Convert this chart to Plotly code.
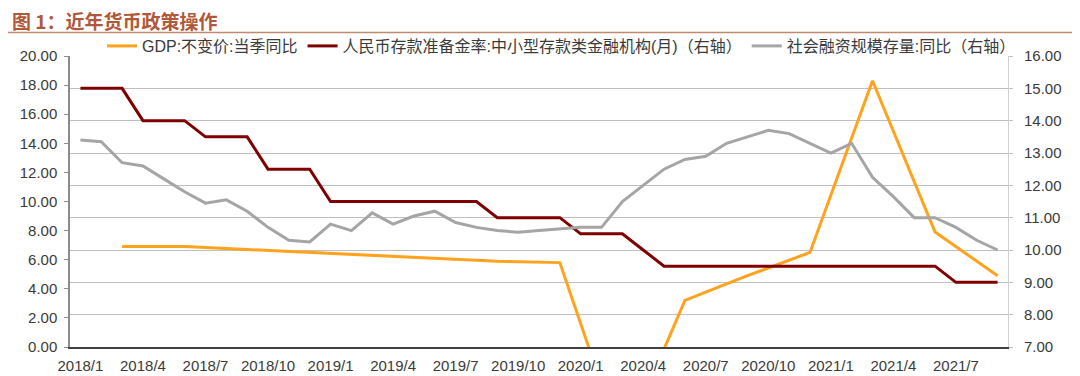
import plotly.graph_objects as go

months = [
    "2018/1", "2018/2", "2018/3", "2018/4", "2018/5", "2018/6", "2018/7", "2018/8", "2018/9",
    "2018/10", "2018/11", "2018/12",
    "2019/1", "2019/2", "2019/3", "2019/4", "2019/5", "2019/6", "2019/7", "2019/8", "2019/9",
    "2019/10", "2019/11", "2019/12",
    "2020/1", "2020/2", "2020/3", "2020/4", "2020/5", "2020/6", "2020/7", "2020/8", "2020/9",
    "2020/10", "2020/11", "2020/12",
    "2021/1", "2021/2", "2021/3", "2021/4", "2021/5", "2021/6", "2021/7", "2021/8", "2021/9",
]
tick_labels = ["2018/1", "2018/4", "2018/7", "2018/10", "2019/1", "2019/4", "2019/7", "2019/10",
               "2020/1", "2020/4", "2020/7", "2020/10", "2021/1", "2021/4", "2021/7"]

gdp_months = ["2018/3", "2018/6", "2018/9", "2018/12", "2019/3", "2019/6", "2019/9", "2019/12",
              "2020/3", "2020/6", "2020/9", "2020/12", "2021/3", "2021/6", "2021/9"]
gdp = [6.9, 6.9, 6.7, 6.5, 6.3, 6.1, 5.9, 5.8, -6.8, 3.2, 4.9, 6.5, 18.3, 7.9, 4.9]

rrr = [15.0, 15.0, 15.0, 14.0, 14.0, 14.0, 13.5, 13.5, 13.5, 12.5, 12.5, 12.5,
       11.5, 11.5, 11.5, 11.5, 11.5, 11.5, 11.5, 11.5, 11.0, 11.0, 11.0, 11.0,
       10.5, 10.5, 10.5, 10.0, 9.5, 9.5, 9.5, 9.5, 9.5, 9.5, 9.5, 9.5,
       9.5, 9.5, 9.5, 9.5, 9.5, 9.5, 9.0, 9.0, 9.0]

tsf = [13.4, 13.35, 12.7, 12.6, 12.2, 11.8, 11.45, 11.55, 11.2, 10.7, 10.3, 10.25,
       10.8, 10.6, 11.15, 10.8, 11.05, 11.2, 10.85, 10.7, 10.6, 10.55, 10.6, 10.65,
       10.7, 10.7, 11.5, 12.0, 12.5, 12.8, 12.9, 13.3, 13.5, 13.7, 13.6, 13.3,
       13.0, 13.3, 12.25, 11.65, 11.0, 11.0, 10.7, 10.3, 10.0]

names = ["GDP:不变价:当季同比",
         "人民币存款准备金率:中小型存款类金融机构(月)（右轴）",
         "社会融资规模存量:同比（右轴）"]
colors = ["#FFA21C", "#7F0000", "#A5A5A5"]

FONT = "Liberation Sans, Arial, Noto Sans CJK SC, sans-serif"

# The page body has an 8px margin, so the figure is 8px smaller than the window.
W, H = 1072, 368
PLOT_H = H - 48 - 29

fig = go.Figure()
fig.add_trace(go.Scatter(x=months, y=rrr, name=names[1], mode="lines",
                         line=dict(color=colors[1], width=3), yaxis="y2", legendrank=2))
fig.add_trace(go.Scatter(x=months, y=tsf, name=names[2], mode="lines",
                         line=dict(color=colors[2], width=3), yaxis="y2", legendrank=3))
fig.add_trace(go.Scatter(x=gdp_months, y=gdp, name=names[0], mode="lines",
                         line=dict(color=colors[0], width=3), yaxis="y", legendrank=1))

fig.update_layout(
    width=W, height=H,
    margin=dict(l=62, r=72, t=48, b=29, autoexpand=False),
    paper_bgcolor="white", plot_bgcolor="white",
    font=dict(family=FONT, color="#3a3a3a", size=15),
    title=dict(text="图 1：近年货币政策操作", x=4 / W, xanchor="left", xref="container",
               y=1 - 14 / H, yanchor="middle", yref="container",
               font=dict(family="Noto Sans CJK SC", size=19, color="#B0583A", weight="bold")),
    showlegend=True,
    legend=dict(orientation="h", x=94 / W, xanchor="left", xref="container",
                y=1 - 21 / H, yanchor="top", yref="container",
                font=dict(family=FONT, size=16, color="#3a3a3a"),
                bgcolor="rgba(0,0,0,0)", itemwidth=30, tracegroupgap=0),
    xaxis=dict(type="category", categoryorder="array", categoryarray=months,
               range=[-0.5, len(months) - 0.5], automargin=False,
               tickmode="array", tickvals=tick_labels, ticktext=tick_labels,
               showgrid=False, showline=True, linecolor="#404040", linewidth=2,
               ticks="", ticklabelstandoff=4, tickfont=dict(size=15), zeroline=False),
    yaxis=dict(range=[0, 20], dtick=2, tickformat=".2f", showgrid=False, zeroline=False,
               showline=True, linecolor="#8C8C8C", linewidth=1.5, automargin=False,
               ticks="outside", ticklen=4, tickcolor="#8C8C8C",
               ticklabelstandoff=4, tickfont=dict(size=15)),
    yaxis2=dict(range=[7, 16], dtick=1, tickformat=".2f", overlaying="y", side="right",
                showgrid=True, gridcolor="#BFBFBF", gridwidth=1, zeroline=False,
                showline=True, linecolor="#D0D0D0", linewidth=1, automargin=False,
                ticks="outside", ticklen=4, tickcolor="#BFBFBF",
                ticklabelstandoff=8, tickfont=dict(size=15)),
    shapes=[dict(type="line", xref="paper", yref="paper",
                 x0=-62 / 938, x1=(W - 62) / 938, y0=1 + 23.5 / PLOT_H, y1=1 + 23.5 / PLOT_H,
                 line=dict(color="#C08A70", width=1.5))],
)

fig.write_html("out.html")
